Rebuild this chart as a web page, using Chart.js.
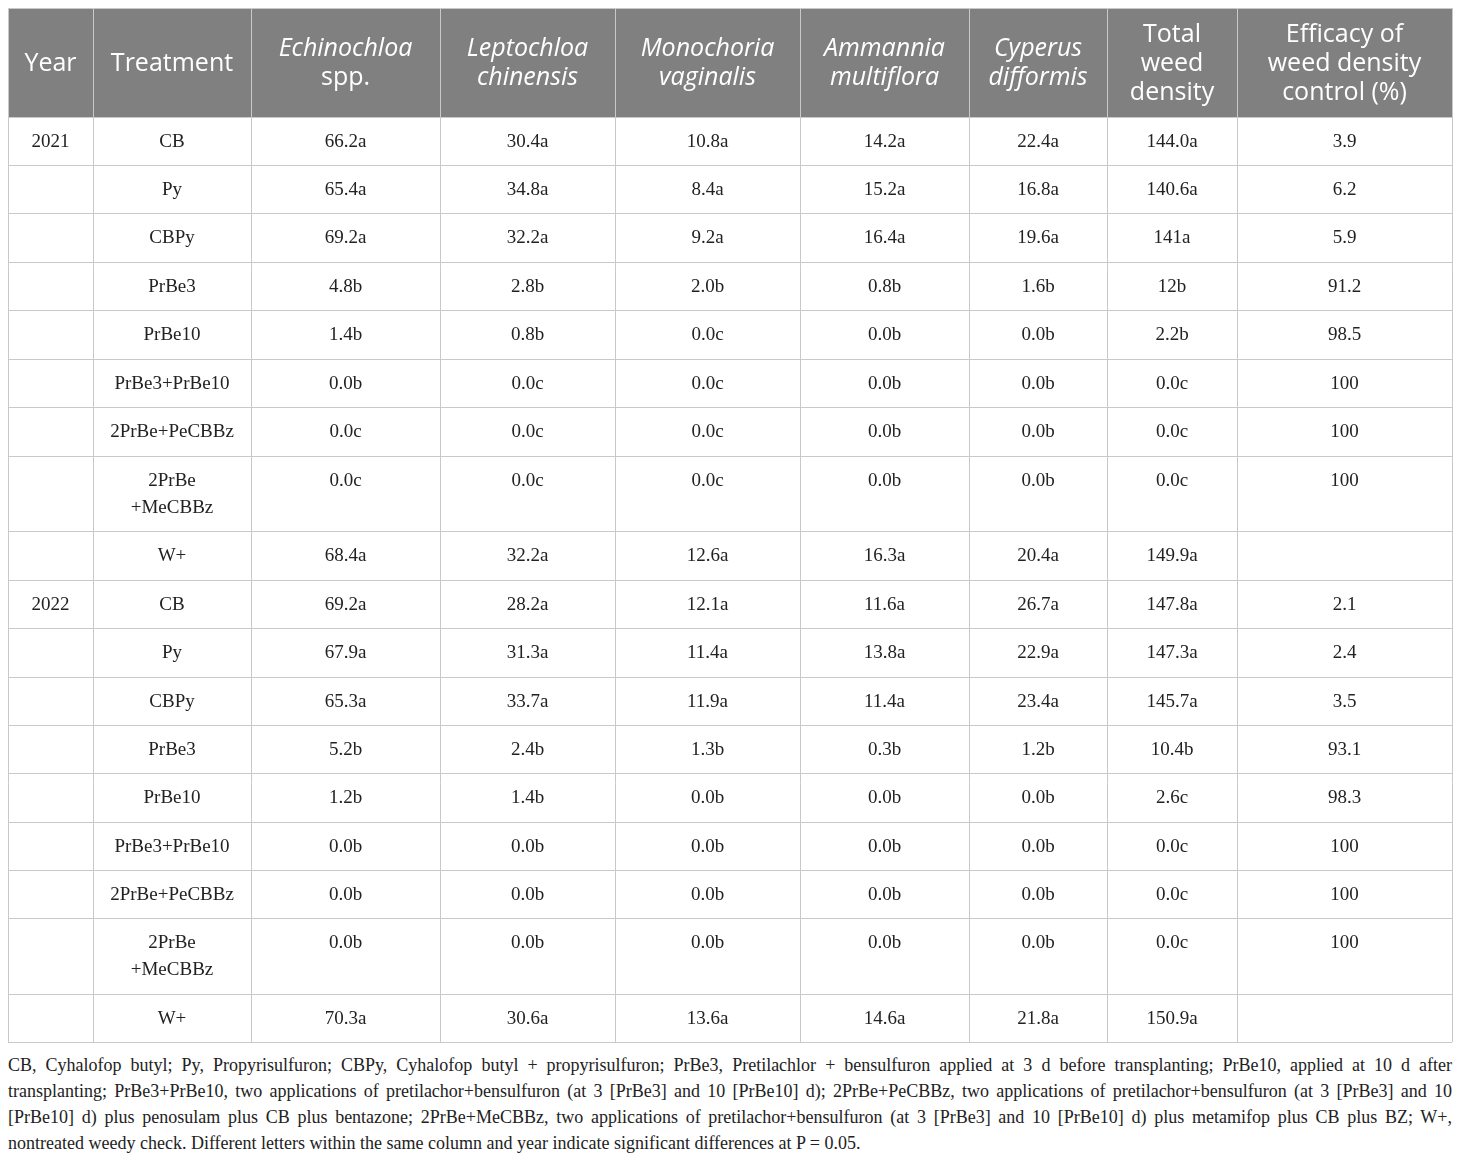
<!DOCTYPE html>
<html>
<head>
<meta charset="utf-8">
<script src="https://cdn.jsdelivr.net/npm/chart.js@4.4.1/dist/chart.umd.min.js"></script>
<style>
  html, body { margin: 0; padding: 0; background: #fff; }
  #wrap { width: 1460px; }
  canvas { display: block; }
  .note { padding: 8px 8px 0 8px; font-family: "Liberation Serif", "Times New Roman", serif;
          font-size: 18px; line-height: 26px; color: #222; }
  .note div { text-align: justify; text-align-last: justify; white-space: nowrap; }
  .note div.last { text-align-last: left; }
</style>
</head>
<body>
<div id="wrap">
  <canvas id="tableChart" width="1460" height="1044"></canvas>
  <div class="note">
    <div>CB, Cyhalofop butyl; Py, Propyrisulfuron; CBPy, Cyhalofop butyl + propyrisulfuron; PrBe3, Pretilachlor + bensulfuron applied at 3 d before transplanting; PrBe10, applied at 10 d after</div>
    <div>transplanting; PrBe3+PrBe10, two applications of pretilachor+bensulfuron (at 3 [PrBe3] and 10 [PrBe10] d); 2PrBe+PeCBBz, two applications of pretilachor+bensulfuron (at 3 [PrBe3] and 10</div>
    <div>[PrBe10] d) plus penosulam plus CB plus bentazone; 2PrBe+MeCBBz, two applications of pretilachor+bensulfuron (at 3 [PrBe3] and 10 [PrBe10] d) plus metamifop plus CB plus BZ; W+,</div>
    <div class="last">nontreated weedy check. Different letters within the same column and year indicate significant differences at P = 0.05.</div>
  </div>
</div>
<script>
// ---- data ----
var headers = [
  ['Year'], ['Treatment'], ['Echinochloa', 'spp.'], ['Leptochloa', 'chinensis'],
  ['Monochoria', 'vaginalis'], ['Ammannia', 'multiflora'], ['Cyperus', 'difformis'],
  ['Total', 'weed', 'density'], ['Efficacy of', 'weed density', 'control (%)']
];
var years = ['2021', '', '', '', '', '', '', '', '', '2022', '', '', '', '', '', '', '', ''];
var treatments = ['CB', 'Py', 'CBPy', 'PrBe3', 'PrBe10', 'PrBe3+PrBe10', '2PrBe+PeCBBz', '2PrBe\n+MeCBBz', 'W+',
                  'CB', 'Py', 'CBPy', 'PrBe3', 'PrBe10', 'PrBe3+PrBe10', '2PrBe+PeCBBz', '2PrBe\n+MeCBBz', 'W+'];
var echinochloa = ['66.2a', '65.4a', '69.2a', '4.8b', '1.4b', '0.0b', '0.0c', '0.0c', '68.4a',
                   '69.2a', '67.9a', '65.3a', '5.2b', '1.2b', '0.0b', '0.0b', '0.0b', '70.3a'];
var leptochloa = ['30.4a', '34.8a', '32.2a', '2.8b', '0.8b', '0.0c', '0.0c', '0.0c', '32.2a',
                  '28.2a', '31.3a', '33.7a', '2.4b', '1.4b', '0.0b', '0.0b', '0.0b', '30.6a'];
var monochoria = ['10.8a', '8.4a', '9.2a', '2.0b', '0.0c', '0.0c', '0.0c', '0.0c', '12.6a',
                  '12.1a', '11.4a', '11.9a', '1.3b', '0.0b', '0.0b', '0.0b', '0.0b', '13.6a'];
var ammannia = ['14.2a', '15.2a', '16.4a', '0.8b', '0.0b', '0.0b', '0.0b', '0.0b', '16.3a',
                '11.6a', '13.8a', '11.4a', '0.3b', '0.0b', '0.0b', '0.0b', '0.0b', '14.6a'];
var cyperus = ['22.4a', '16.8a', '19.6a', '1.6b', '0.0b', '0.0b', '0.0b', '0.0b', '20.4a',
               '26.7a', '22.9a', '23.4a', '1.2b', '0.0b', '0.0b', '0.0b', '0.0b', '21.8a'];
var totalDensity = ['144.0a', '140.6a', '141a', '12b', '2.2b', '0.0c', '0.0c', '0.0c', '149.9a',
                    '147.8a', '147.3a', '145.7a', '10.4b', '2.6c', '0.0c', '0.0c', '0.0c', '150.9a'];
var efficacy = ['3.9', '6.2', '5.9', '91.2', '98.5', '100', '100', '100', '',
                '2.1', '2.4', '3.5', '93.1', '98.3', '100', '100', '100', ''];

// ---- layout (scale units) ----
var colEdges = [0, 85, 243, 432, 607, 792, 961, 1099, 1229, 1444];
var rowEdges = [0, 109, 157, 205, 254, 302, 351, 399, 448, 523, 572, 620, 669, 717, 765, 814, 862, 910, 986, 1034];
var italicHead = [false, false, true, true, true, true, true, false, false];

var columns = [years, treatments, echinochloa, leptochloa, monochoria, ammannia, cyperus, totalDensity, efficacy];

var tablePlugin = {
  id: 'tablePlugin',
  afterDraw: function (chart) {
    var ctx = chart.ctx;
    var xs = chart.scales.x, ys = chart.scales.y;
    var px = function (v) { return xs.getPixelForValue(v); };
    var py = function (v) { return ys.getPixelForValue(v); };
    ctx.save();

    // header background
    ctx.fillStyle = '#808080';
    ctx.fillRect(px(0), py(0), px(1444) - px(0), py(rowEdges[1]) - py(0));

    // grid lines
    ctx.strokeStyle = '#c9c9c9';
    ctx.lineWidth = 1;
    colEdges.forEach(function (c) {
      var x = Math.round(px(c)) + 0.5;
      ctx.beginPath(); ctx.moveTo(x, py(0)); ctx.lineTo(x, py(1034)); ctx.stroke();
    });
    rowEdges.forEach(function (r) {
      var y = Math.round(py(r)) + 0.5;
      ctx.beginPath(); ctx.moveTo(px(0), y); ctx.lineTo(px(1444), y); ctx.stroke();
    });

    // header text
    ctx.fillStyle = '#ffffff';
    ctx.textAlign = 'center';
    ctx.textBaseline = 'middle';
    var headMid = (py(0) + py(rowEdges[1])) / 2 + 1;
    headers.forEach(function (lines, i) {
      var cx = (px(colEdges[i]) + px(colEdges[i + 1])) / 2;
      var lh = 29;
      var y0 = headMid - (lines.length - 1) * lh / 2;
      lines.forEach(function (t, k) {
        var ital = italicHead[i] && !(i === 2 && k === 1);
        ctx.font = (ital ? 'italic ' : '') + '25px "Open Sans"';
        ctx.fillText(t, cx, y0 + k * lh);
      });
    });

    // body text
    ctx.fillStyle = '#222222';
    ctx.font = '19px "Liberation Serif"';
    columns.forEach(function (col, i) {
      var cx = (px(colEdges[i]) + px(colEdges[i + 1])) / 2;
      col.forEach(function (val, r) {
        var top = py(rowEdges[r + 1]);
        String(val).split('\n').forEach(function (t, k) {
          ctx.fillText(t, cx, top + 25.5 + k * 27);
        });
      });
    });
    ctx.restore();
  }
};

new Chart(document.getElementById('tableChart'), {
  type: 'scatter',
  data: { datasets: [] },
  options: {
    responsive: false,
    animation: false,
    layout: { padding: { left: 8, right: 8, top: 8, bottom: 2 } },
    plugins: { legend: { display: false }, tooltip: { enabled: false } },
    scales: {
      x: { type: 'linear', min: 0, max: 1444, display: false },
      y: { type: 'linear', min: 0, max: 1034, reverse: true, display: false }
    }
  },
  plugins: [tablePlugin]
});
</script>
</body>
</html>
